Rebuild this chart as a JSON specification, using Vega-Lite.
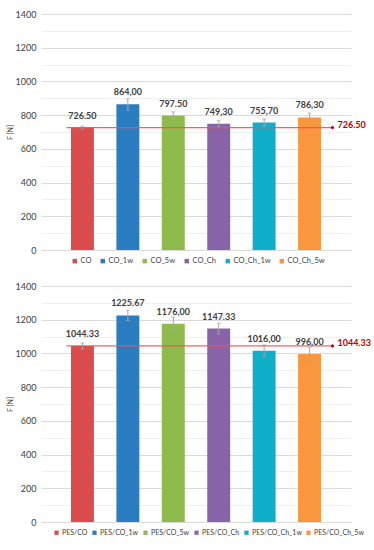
{
  "$schema": "https://vega.github.io/schema/vega-lite/v6.json",
  "padding": {"left": 6, "top": 10, "right": 0, "bottom": 2},
  "background": "white",
  "config": {
    "font": "Lato",
    "view": {"stroke": null},
    "concat": {"spacing": 17},
    "axis": {"labelFont": "Lato", "titleFont": "Lato", "labelOverlap": false},
    "axisY": {"labelOverlap": false, "ticks": false, "domain": false, "labelPadding": 5, "labelFontSize": 9, "labelColor": "#404040", "titleFontSize": 7, "titleFontWeight": "normal", "titleColor": "#404040", "titlePadding": 2, "labelBound": false, "labelFlush": false},
    "legend": {"labelFont": "Lato"}
  },
  "datasets": {
    "top": [
      {"sample": "CO", "F": 726.5, "err": 8, "label": "726.50"},
      {"sample": "CO_1w", "F": 864.0, "err": 34, "label": "864,00"},
      {"sample": "CO_5w", "F": 797.5, "err": 22, "label": "797.50"},
      {"sample": "CO_Ch", "F": 749.3, "err": 20, "label": "749,30"},
      {"sample": "CO_Ch_1w", "F": 755.7, "err": 22, "label": "755,70"},
      {"sample": "CO_Ch_5w", "F": 786.3, "err": 26, "label": "786,30"}
    ],
    "topRef": [
      {"start": "CO", "end": "CO_Ch_5w", "ref": 726.5, "refLabel": "726.50"}
    ],
    "bot": [
      {"sample": "PES/CO", "F": 1044.33, "err": 18, "label": "1044.33"},
      {"sample": "PES/CO_1w", "F": 1225.67, "err": 31, "label": "1225.67"},
      {"sample": "PES/CO_5w", "F": 1176.0, "err": 40, "label": "1176,00"},
      {"sample": "PES/CO_Ch", "F": 1147.33, "err": 32, "label": "1147.33"},
      {"sample": "PES/CO_Ch_1w", "F": 1016.0, "err": 34, "label": "1016,00"},
      {"sample": "PES/CO_Ch_5w", "F": 996.0, "err": 40, "label": "996,00"}
    ],
    "botRef": [
      {"start": "PES/CO", "end": "PES/CO_Ch_5w", "ref": 1044.33, "refLabel": "1044.33"}
    ]
  },
  "resolve": {"scale": {"color": "independent", "x": "independent"}, "legend": {"color": "independent"}},
  "vconcat": [
    {
      "width": 310,
      "height": 236,
      "layer": [
        {
          "data": {"name": "top"},
          "mark": {"type": "bar"},
          "encoding": {
            "x": {"field": "sample", "type": "nominal", "axis": null, "scale": {"domain": ["CO", "CO_1w", "CO_5w", "CO_Ch", "CO_Ch_1w", "CO_Ch_5w"], "paddingInner": 0.495, "paddingOuter": 0.66}},
            "y": {"field": "F", "type": "quantitative", "title": "F [N]", "scale": {"domain": [0, 1400]}, "axis": {"values": [0, 100, 200, 300, 400, 500, 600, 700, 800, 900, 1000, 1100, 1200, 1300, 1400], "format": "d", "labelOverlap": false, "labelExpr": "datum.value % 200 === 0 ? datum.label : ''", "gridColor": {"condition": {"test": "datum.value % 200 === 0", "value": "#dadada"}, "value": "#efefef"}}},
            "color": {"field": "sample", "type": "nominal",
              "scale": {"domain": ["CO", "CO_1w", "CO_5w", "CO_Ch", "CO_Ch_1w", "CO_Ch_5w"], "range": ["#DB4D4D", "#2A7DC0", "#8DBB4C", "#8963A8", "#10AFC9", "#F9963E"]},
              "legend": {"orient": "none", "legendX": 30, "legendY": 243, "direction": "horizontal", "title": null, "symbolType": "square", "symbolSize": 20, "labelFontSize": 7.5, "labelOffset": 2, "labelColor": "#404040", "columnPadding": 7}}
          }
        },
        {
          "data": {"name": "top"},
          "mark": {"type": "errorbar", "color": "#a6a6a6", "ticks": {"size": 4, "color": "#a6a6a6"}},
          "encoding": {
            "x": {"field": "sample", "type": "nominal"},
            "y": {"field": "F", "type": "quantitative", "title": "F [N]", "axis": {"values": [0, 100, 200, 300, 400, 500, 600, 700, 800, 900, 1000, 1100, 1200, 1300, 1400], "format": "d", "labelOverlap": false, "labelExpr": "datum.value % 200 === 0 ? datum.label : ''", "gridColor": {"condition": {"test": "datum.value % 200 === 0", "value": "#dadada"}, "value": "#efefef"}}},
            "yError": {"field": "err"}
          }
        },
        {
          "data": {"name": "top"},
          "mark": {"type": "text", "dy": -12, "fontSize": 9, "fontWeight": "bold", "color": "#404040"},
          "encoding": {
            "x": {"field": "sample", "type": "nominal"},
            "y": {"field": "F", "type": "quantitative", "title": "F [N]", "axis": {"values": [0, 100, 200, 300, 400, 500, 600, 700, 800, 900, 1000, 1100, 1200, 1300, 1400], "format": "d", "labelOverlap": false, "labelExpr": "datum.value % 200 === 0 ? datum.label : ''", "gridColor": {"condition": {"test": "datum.value % 200 === 0", "value": "#dadada"}, "value": "#efefef"}}},
            "text": {"field": "label"}
          }
        },
        {
          "data": {"name": "topRef"},
          "mark": {"type": "rule", "color": "#F25050", "strokeWidth": 1.3, "opacity": 0.9},
          "encoding": {
            "x": {"field": "start", "type": "nominal", "bandPosition": -0.2},
            "x2": {"field": "end", "bandPosition": 1.5},
            "y": {"field": "ref", "type": "quantitative", "title": "F [N]", "axis": {"values": [0, 100, 200, 300, 400, 500, 600, 700, 800, 900, 1000, 1100, 1200, 1300, 1400], "format": "d", "labelOverlap": false, "labelExpr": "datum.value % 200 === 0 ? datum.label : ''", "gridColor": {"condition": {"test": "datum.value % 200 === 0", "value": "#dadada"}, "value": "#efefef"}}}
          }
        },
        {
          "data": {"name": "topRef"},
          "mark": {"type": "point", "filled": true, "color": "#C00000", "size": 10, "opacity": 1},
          "encoding": {
            "x": {"field": "end", "type": "nominal", "bandPosition": 1.5},
            "y": {"field": "ref", "type": "quantitative", "title": "F [N]", "axis": {"values": [0, 100, 200, 300, 400, 500, 600, 700, 800, 900, 1000, 1100, 1200, 1300, 1400], "format": "d", "labelOverlap": false, "labelExpr": "datum.value % 200 === 0 ? datum.label : ''", "gridColor": {"condition": {"test": "datum.value % 200 === 0", "value": "#dadada"}, "value": "#efefef"}}}
          }
        },
        {
          "data": {"name": "topRef"},
          "mark": {"type": "text", "align": "left", "dx": 5, "dy": -3, "fontSize": 9, "fontWeight": "bold", "color": "#C00000"},
          "encoding": {
            "x": {"field": "end", "type": "nominal", "bandPosition": 1.5},
            "y": {"field": "ref", "type": "quantitative", "title": "F [N]", "axis": {"values": [0, 100, 200, 300, 400, 500, 600, 700, 800, 900, 1000, 1100, 1200, 1300, 1400], "format": "d", "labelOverlap": false, "labelExpr": "datum.value % 200 === 0 ? datum.label : ''", "gridColor": {"condition": {"test": "datum.value % 200 === 0", "value": "#dadada"}, "value": "#efefef"}}},
            "text": {"field": "refLabel"}
          }
        }
      ]
    },
    {
      "width": 310,
      "height": 236,
      "layer": [
        {
          "data": {"name": "bot"},
          "mark": {"type": "bar"},
          "encoding": {
            "x": {"field": "sample", "type": "nominal", "axis": null, "scale": {"domain": ["PES/CO", "PES/CO_1w", "PES/CO_5w", "PES/CO_Ch", "PES/CO_Ch_1w", "PES/CO_Ch_5w"], "paddingInner": 0.495, "paddingOuter": 0.66}},
            "y": {"field": "F", "type": "quantitative", "title": "F [N]", "scale": {"domain": [0, 1400]}, "axis": {"values": [0, 100, 200, 300, 400, 500, 600, 700, 800, 900, 1000, 1100, 1200, 1300, 1400], "format": "d", "labelOverlap": false, "labelExpr": "datum.value % 200 === 0 ? datum.label : ''", "gridColor": {"condition": {"test": "datum.value % 200 === 0", "value": "#dadada"}, "value": "#efefef"}}},
            "color": {"field": "sample", "type": "nominal",
              "scale": {"domain": ["PES/CO", "PES/CO_1w", "PES/CO_5w", "PES/CO_Ch", "PES/CO_Ch_1w", "PES/CO_Ch_5w"], "range": ["#DB4D4D", "#2A7DC0", "#8DBB4C", "#8963A8", "#10AFC9", "#F9963E"]},
              "legend": {"orient": "none", "legendX": 12, "legendY": 243, "direction": "horizontal", "title": null, "symbolType": "square", "symbolSize": 18, "labelFontSize": 7, "labelOffset": 2, "labelColor": "#404040", "columnPadding": 3}}
          }
        },
        {
          "data": {"name": "bot"},
          "mark": {"type": "errorbar", "color": "#a6a6a6", "ticks": {"size": 4, "color": "#a6a6a6"}},
          "encoding": {
            "x": {"field": "sample", "type": "nominal"},
            "y": {"field": "F", "type": "quantitative", "title": "F [N]", "axis": {"values": [0, 100, 200, 300, 400, 500, 600, 700, 800, 900, 1000, 1100, 1200, 1300, 1400], "format": "d", "labelOverlap": false, "labelExpr": "datum.value % 200 === 0 ? datum.label : ''", "gridColor": {"condition": {"test": "datum.value % 200 === 0", "value": "#dadada"}, "value": "#efefef"}}},
            "yError": {"field": "err"}
          }
        },
        {
          "data": {"name": "bot"},
          "mark": {"type": "text", "dy": -12, "fontSize": 9, "fontWeight": "bold", "color": "#404040"},
          "encoding": {
            "x": {"field": "sample", "type": "nominal"},
            "y": {"field": "F", "type": "quantitative", "title": "F [N]", "axis": {"values": [0, 100, 200, 300, 400, 500, 600, 700, 800, 900, 1000, 1100, 1200, 1300, 1400], "format": "d", "labelOverlap": false, "labelExpr": "datum.value % 200 === 0 ? datum.label : ''", "gridColor": {"condition": {"test": "datum.value % 200 === 0", "value": "#dadada"}, "value": "#efefef"}}},
            "text": {"field": "label"}
          }
        },
        {
          "data": {"name": "botRef"},
          "mark": {"type": "rule", "color": "#F25050", "strokeWidth": 1.3, "opacity": 0.9},
          "encoding": {
            "x": {"field": "start", "type": "nominal", "bandPosition": -0.2},
            "x2": {"field": "end", "bandPosition": 1.5},
            "y": {"field": "ref", "type": "quantitative", "title": "F [N]", "axis": {"values": [0, 100, 200, 300, 400, 500, 600, 700, 800, 900, 1000, 1100, 1200, 1300, 1400], "format": "d", "labelOverlap": false, "labelExpr": "datum.value % 200 === 0 ? datum.label : ''", "gridColor": {"condition": {"test": "datum.value % 200 === 0", "value": "#dadada"}, "value": "#efefef"}}}
          }
        },
        {
          "data": {"name": "botRef"},
          "mark": {"type": "point", "filled": true, "color": "#C00000", "size": 10, "opacity": 1},
          "encoding": {
            "x": {"field": "end", "type": "nominal", "bandPosition": 1.5},
            "y": {"field": "ref", "type": "quantitative", "title": "F [N]", "axis": {"values": [0, 100, 200, 300, 400, 500, 600, 700, 800, 900, 1000, 1100, 1200, 1300, 1400], "format": "d", "labelOverlap": false, "labelExpr": "datum.value % 200 === 0 ? datum.label : ''", "gridColor": {"condition": {"test": "datum.value % 200 === 0", "value": "#dadada"}, "value": "#efefef"}}}
          }
        },
        {
          "data": {"name": "botRef"},
          "mark": {"type": "text", "align": "left", "dx": 5, "dy": -3, "fontSize": 9, "fontWeight": "bold", "color": "#C00000"},
          "encoding": {
            "x": {"field": "end", "type": "nominal", "bandPosition": 1.5},
            "y": {"field": "ref", "type": "quantitative", "title": "F [N]", "axis": {"values": [0, 100, 200, 300, 400, 500, 600, 700, 800, 900, 1000, 1100, 1200, 1300, 1400], "format": "d", "labelOverlap": false, "labelExpr": "datum.value % 200 === 0 ? datum.label : ''", "gridColor": {"condition": {"test": "datum.value % 200 === 0", "value": "#dadada"}, "value": "#efefef"}}},
            "text": {"field": "refLabel"}
          }
        }
      ]
    }
  ]
}
